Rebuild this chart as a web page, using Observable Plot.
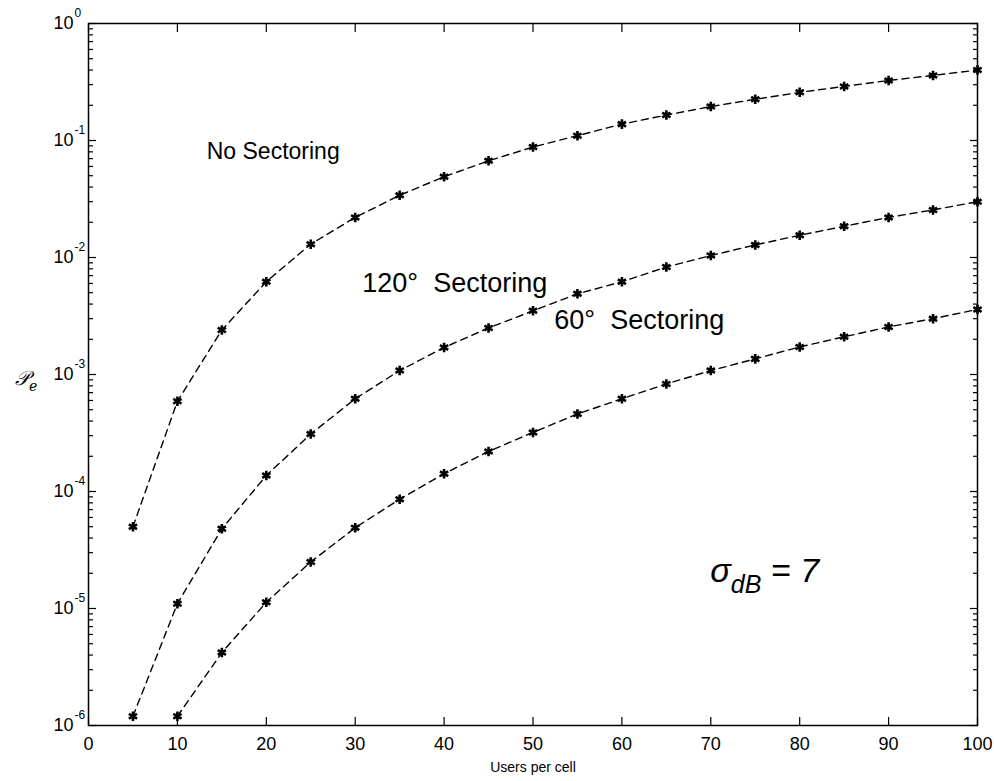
<!DOCTYPE html>
<html>
<head>
<meta charset="utf-8">
<script src="https://cdn.jsdelivr.net/npm/d3@7"></script>
<script src="https://cdn.jsdelivr.net/npm/@observablehq/plot@0.6"></script>
<style>
  html, body { margin: 0; padding: 0; background: #fff; }
  #chart { width: 994px; height: 781px; }
</style>
</head>
<body>
<div id="chart"></div>
<script>
// ---- data ----
const users = [5, 10, 15, 20, 25, 30, 35, 40, 45, 50, 55, 60, 65, 70, 75, 80, 85, 90, 95, 100];
const noSectoring = [5.0e-5, 5.9e-4, 2.4e-3, 6.2e-3, 1.3e-2, 2.2e-2, 3.4e-2, 4.9e-2, 6.7e-2, 8.8e-2,
                     0.11, 0.138, 0.165, 0.195, 0.225, 0.258, 0.29, 0.326, 0.36, 0.40];
const sector120 = [1.2e-6, 1.1e-5, 4.8e-5, 1.37e-4, 3.1e-4, 6.2e-4, 1.08e-3, 1.7e-3, 2.5e-3, 3.5e-3,
                   4.9e-3, 6.2e-3, 8.3e-3, 1.04e-2, 1.28e-2, 1.55e-2, 1.85e-2, 2.2e-2, 2.55e-2, 3.0e-2];
const users60 = [10, 15, 20, 25, 30, 35, 40, 45, 50, 55, 60, 65, 70, 75, 80, 85, 90, 95, 100];
const sector60 = [1.2e-6, 4.2e-6, 1.13e-5, 2.5e-5, 4.9e-5, 8.6e-5, 1.42e-4, 2.2e-4, 3.2e-4, 4.6e-4,
                  6.2e-4, 8.3e-4, 1.08e-3, 1.36e-3, 1.72e-3, 2.1e-3, 2.55e-3, 3.0e-3, 3.6e-3];

const xTicks = [0, 10, 20, 30, 40, 50, 60, 70, 80, 90, 100];
const yMajor = [1e-6, 1e-5, 1e-4, 1e-3, 1e-2, 1e-1, 1];
const yExponents = ["-6", "-5", "-4", "-3", "-2", "-1", "0"];
const yMinor = [];
for (const e of [-6, -5, -4, -3, -2, -1]) for (const m of [2, 3, 4, 5, 6, 7, 8, 9]) yMinor.push(m * Math.pow(10, e));

const curveLabels = ["No Sectoring", "120\u00B0\u00A0\u00A0Sectoring", "60\u00B0\u00A0\u00A0Sectoring"];
const curveLabelX = [13.3, 30.8, 52.4];
const curveLabelY = [0.08, 6.0e-3, 2.9e-3];

const xLabel = "Users per cell";

// ---- table ----
const rows = [
  ...users.map((u, i) => ({users: u, pe: noSectoring[i], series: "none"})),
  ...users.map((u, i) => ({users: u, pe: sector120[i], series: "120"})),
  ...users60.map((u, i) => ({users: u, pe: sector60[i], series: "60"}))
];
const labelRows = curveLabels.map((t, i) => ({text: t, x: curveLabelX[i], y: curveLabelY[i]}));

const font = "'Liberation Sans', Arial, Helvetica, sans-serif";

const plot = Plot.plot({
  width: 994,
  height: 781,
  marginLeft: 88,
  marginRight: 17,
  marginTop: 23,
  marginBottom: 56,
  style: {fontFamily: font, fontSize: "18px", color: "black", background: "white"},
  x: {domain: [0, 100], label: null},
  y: {type: "log", domain: [1e-6, 1], label: null},
  marks: [
    // inward ticks
    Plot.axisX(xTicks, {anchor: "bottom", tickSize: -8, tickFormat: () => "", strokeWidth: 1.2}),
    Plot.axisX(xTicks, {anchor: "top", tickSize: -8, tickFormat: () => "", strokeWidth: 1.2}),
    Plot.axisY(yMajor, {anchor: "left", tickSize: -8, tickFormat: () => "", strokeWidth: 1.2}),
    Plot.axisY(yMajor, {anchor: "right", tickSize: -8, tickFormat: () => "", strokeWidth: 1.2}),
    Plot.axisY(yMinor, {anchor: "left", tickSize: -5, tickFormat: () => "", strokeWidth: 1.2}),
    Plot.axisY(yMinor, {anchor: "right", tickSize: -5, tickFormat: () => "", strokeWidth: 1.2}),
    // x tick labels
    Plot.axisX(xTicks, {anchor: "bottom", tickSize: 0, tickPadding: 12, fontSize: 18}),
    // y tick labels 10^k
    Plot.text(yMajor, {y: d => d, frameAnchor: "left", text: () => "10", textAnchor: "end", dx: -15, fontSize: 18}),
    Plot.text(yMajor, {y: d => d, frameAnchor: "left", text: (d, i) => yExponents[i], textAnchor: "start", dx: -14, dy: -10, fontSize: 12}),
    // curves
    Plot.line(rows, {x: "users", y: "pe", z: "series", stroke: "black", strokeWidth: 1.4, strokeDasharray: "7,5"}),
    Plot.dot(rows, {x: "users", y: "pe", symbol: "asterisk", r: 4.5, stroke: "black", strokeWidth: 2.6}),
    // curve labels
    Plot.text(labelRows.slice(0, 1), {x: "x", y: "y", text: "text", textAnchor: "start", fontSize: 23}),
    Plot.text(labelRows.slice(1), {x: "x", y: "y", text: "text", textAnchor: "start", fontSize: 27}),
    // x label
    Plot.text([xLabel], {frameAnchor: "bottom", text: d => d, dy: 46, fontSize: 14}),
    Plot.frame({stroke: "black", strokeWidth: 1.5})
  ]
});

document.getElementById("chart").appendChild(plot);

// sigma annotation and y-axis label drawn with tspans, positioned via the plot's scales
const svg = d3.select(plot);
const sx = plot.scale("x"), sy = plot.scale("y");
const sigmaX = 70, sigmaY = 2.1e-5;
const sig = svg.append("text")
  .attr("x", sx.apply(sigmaX))
  .attr("y", sy.apply(sigmaY))
  .attr("dy", "0.35em")
  .attr("text-anchor", "start")
  .attr("font-family", font)
  .attr("font-style", "italic")
  .attr("font-size", 34)
  .attr("fill", "black");
sig.append("tspan").text("\u03C3");
sig.append("tspan").attr("font-size", 25).attr("dy", 11).text("dB");
sig.append("tspan").attr("dy", -11).text("\u00A0= 7");

const yl = svg.append("text")
  .attr("x", 15)
  .attr("y", sy.apply(8e-4))
  .attr("text-anchor", "start")
  .attr("font-family", "'DejaVu Serif', serif")
  .attr("font-style", "italic")
  .attr("font-size", 20)
  .attr("fill", "black");
yl.append("tspan").text("\uD835\uDCAB");
yl.append("tspan").attr("font-size", 14).attr("dy", 6).text("e");
</script>
</body>
</html>
